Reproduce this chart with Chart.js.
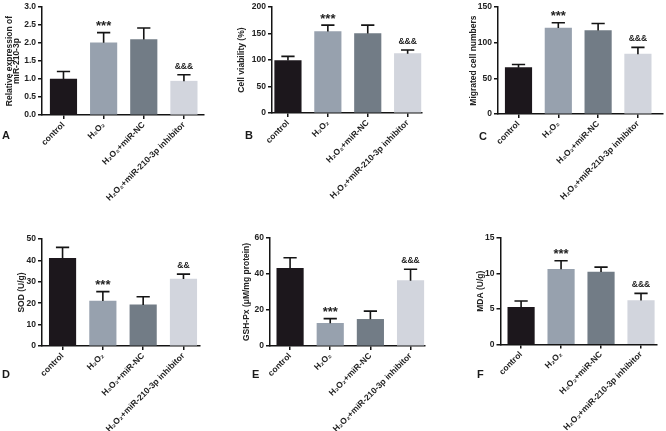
<!DOCTYPE html>
<html lang="en">
<head>
  <meta charset="UTF-8">
  <title>miR-210-3p / H2O2 panels</title>
  <script src="https://cdn.jsdelivr.net/npm/chart.js"></script>
  <style>
    body {
      margin: 0;
      background: #fff;
      font-family: "Liberation Sans", Arial, sans-serif;
    }
    #fig {
      position: relative;
      width: 666px;
      height: 431px;
      overflow: hidden;
    }
    .panel { position: absolute; }
    .letter {
      position: absolute;
      font-size: 11px;
      line-height: 11px;
      font-weight: bold;
      color: #1a1a1a;
    }
  </style>
</head>
<body>
  <div id="fig">
    <div class="panel" style="left:0;top:0"><canvas id="chart-a" width="222" height="215"></canvas></div>
    <div class="panel" style="left:222px;top:0"><canvas id="chart-b" width="222" height="215"></canvas></div>
    <div class="panel" style="left:444px;top:0"><canvas id="chart-c" width="222" height="215"></canvas></div>
    <div class="panel" style="left:0;top:215px"><canvas id="chart-d" width="222" height="216"></canvas></div>
    <div class="panel" style="left:222px;top:215px"><canvas id="chart-e" width="222" height="216"></canvas></div>
    <div class="panel" style="left:444px;top:215px"><canvas id="chart-f" width="222" height="216"></canvas></div>

    <div class="letter" style="left:2px;top:130px">A</div>
    <div class="letter" style="left:245px;top:130px">B</div>
    <div class="letter" style="left:479px;top:131px">C</div>
    <div class="letter" style="left:2px;top:369px">D</div>
    <div class="letter" style="left:252px;top:369px">E</div>
    <div class="letter" style="left:477px;top:369px">F</div>
  </div>

  <script>
    // groups (same in every panel)
    const groups = ['control', 'H₂O₂', 'H₂O₂+miR-NC', 'H₂O₂+miR-210-3p inhibitor'];

    // means and SD
    const mirExpression = [1.00, 2.01, 2.10, 0.94];
    const mirExpressionSd = [0.21, 0.28, 0.32, 0.18];
    const viability = [99, 154, 150, 112];
    const viabilitySd = [8, 12, 16, 7];
    const migrated = [65, 120.5, 117, 84];
    const migratedSd = [4.5, 7.5, 10, 9.5];
    const sod = [41, 21, 19.2, 31.3];
    const sodSd = [5.1, 4.4, 3.8, 2.3];
    const gshPx = [43.2, 12.6, 14.8, 36.3];
    const gshPxSd = [5.8, 2.6, 4.6, 6.3];
    const mda = [5.24, 10.6, 10.2, 6.2];
    const mdaSd = [0.89, 1.2, 0.7, 1.0];

    // significance marks
    const sigMarks = ['', '***', '', '&&&'];
    const sodMarks = ['', '***', '', '&&'];

    // y tick values
    const ticksA = [0, 0.5, 1, 1.5, 2, 2.5, 3];
    const ticksB = [0, 50, 100, 150, 200];
    const ticksC = [0, 50, 100, 150];
    const ticksD = [0, 10, 20, 30, 40, 50];
    const ticksE = [0, 20, 40, 60];
    const ticksF = [0, 5, 10, 15];

    const barColors = ['#1c171c', '#97a1ae', '#727c86', '#d2d5dd'];
    const ink = '#141414';
    const textInk = '#222';

    Chart.defaults.font.family = '"Liberation Sans", Arial, sans-serif';

    // layout per panel: area = [left, top, right, bottom] of the plot inside its canvas
    const panels = [
      { id: 'chart-a', values: mirExpression, sd: mirExpressionSd, marks: sigMarks, ticks: ticksA, decimals: 1,
        title: ['Relative expression of', 'miR-210-3p'], lh: 0.88, titleX: 9.3,
        w: 222, h: 215, area: [42, 7, 204, 115], xRange: [-0.535, 3.5] },
      { id: 'chart-b', values: viability, sd: viabilitySd, marks: sigMarks, ticks: ticksB, decimals: 0,
        title: 'Cell viability (%)', lh: 1.2, titleX: 20,
        w: 222, h: 215, area: [50, 6, 200, 113], xRange: [-0.40, 3.36] },
      { id: 'chart-c', values: migrated, sd: migratedSd, marks: sigMarks, ticks: ticksC, decimals: 0,
        title: 'Migrated cell numbers', lh: 1.2, titleX: 29.7,
        w: 222, h: 215, area: [54, 7, 219, 114], xRange: [-0.515, 3.63] },
      { id: 'chart-d', values: sod, sd: sodSd, marks: sodMarks, ticks: ticksD, decimals: 0,
        title: 'SOD (U/g)', lh: 1.2, titleX: 22,
        w: 222, h: 216, area: [42, 24, 200, 131], xRange: [-0.51, 3.41] },
      { id: 'chart-e', values: gshPx, sd: gshPxSd, marks: sigMarks, ticks: ticksE, decimals: 0,
        title: 'GSH-Px (μM/mg protein)', lh: 1.2, titleX: 25,
        w: 222, h: 216, area: [48, 23, 203, 131], xRange: [-0.50, 3.36] },
      { id: 'chart-f', values: mda, sd: mdaSd, marks: sigMarks, ticks: ticksF, decimals: 0,
        title: 'MDA (U/g)', lh: 1.2, titleX: 36.5,
        w: 222, h: 216, area: [56.5, 23, 213, 129.5], xRange: [-0.515, 3.40] }
    ];

    // upper SD whisker with cap, plus the significance mark above it
    const errorBarPlugin = {
      id: 'errorBars',
      afterDatasetsDraw(chart, args, opts) {
        const { ctx } = chart;
        const y = chart.scales.y;
        const meta = chart.getDatasetMeta(0);
        const data = chart.data.datasets[0].data;
        ctx.save();
        ctx.strokeStyle = ink;
        ctx.fillStyle = textInk;
        ctx.lineWidth = 1.6;
        meta.data.forEach((bar, i) => {
          const top = y.getPixelForValue(data[i].y + opts.sd[i]);
          const half = bar.width / 4;
          ctx.beginPath();
          ctx.moveTo(bar.x, bar.y);
          ctx.lineTo(bar.x, top);
          ctx.moveTo(bar.x - half, top);
          ctx.lineTo(bar.x + half, top);
          ctx.stroke();

          const mark = opts.marks[i];
          if (mark) {
            const size = mark[0] === '*' ? 13 : 8.5;
            ctx.font = 'bold ' + size + 'px "Liberation Sans", Arial, sans-serif';
            ctx.textAlign = 'center';
            ctx.textBaseline = 'alphabetic';
            const m = ctx.measureText(mark);
            const cy = top - 9;
            ctx.fillText(mark, bar.x, cy + (m.actualBoundingBoxAscent - m.actualBoundingBoxDescent) / 2);
          }
        });
        ctx.restore();
      }
    };

    panels.forEach(p => {
      const lineH = 8.5 * p.lh;
      new Chart(document.getElementById(p.id), {
        type: 'bar',
        data: {
          datasets: [{
            data: p.values.map((v, i) => ({ x: i, y: v })),
            backgroundColor: barColors,
            borderWidth: 0,
            barThickness: 26.5
          }]
        },
        options: {
          responsive: false,
          animation: false,
          layout: { padding: { left: 0, top: p.area[1], right: p.w - p.area[2], bottom: 0 } },
          plugins: {
            legend: { display: false },
            tooltip: { enabled: false },
            errorBars: { sd: p.sd, marks: p.marks }
          },
          scales: {
            x: {
              type: 'linear',
              min: p.xRange[0],
              max: p.xRange[1],
              offset: false,
              afterBuildTicks: s => { s.ticks = groups.map((g, i) => ({ value: i })); },
              afterFit: s => { s.height = p.h - p.area[3]; },
              ticks: {
                autoSkip: false,
                minRotation: 45,
                maxRotation: 45,
                padding: 1,
                color: textInk,
                font: { size: 8.5, weight: 'bold' },
                callback: v => groups[v]
              },
              grid: { display: true, drawOnChartArea: false, offset: false, tickLength: 4, color: ink, lineWidth: 1.5 },
              border: { color: ink, width: 1.5 }
            },
            y: {
              min: 0,
              max: p.ticks[p.ticks.length - 1],
              afterBuildTicks: s => { s.ticks = p.ticks.map(v => ({ value: v })); },
              afterFit: s => { s.width = p.area[0]; },
              ticks: {
                padding: 2,
                color: textInk,
                font: { size: 8.5, weight: 'bold' },
                callback: v => v.toFixed(p.decimals)
              },
              grid: { drawOnChartArea: false, tickLength: 4, color: ink, lineWidth: 1.5 },
              border: { color: ink, width: 1.5 },
              title: {
                display: true,
                text: p.title,
                color: textInk,
                font: { size: 8.5, weight: 'bold', lineHeight: p.lh },
                padding: { top: p.titleX - lineH / 2, bottom: 0 }
              }
            }
          }
        },
        plugins: [errorBarPlugin]
      });
    });
  </script>
</body>
</html>
